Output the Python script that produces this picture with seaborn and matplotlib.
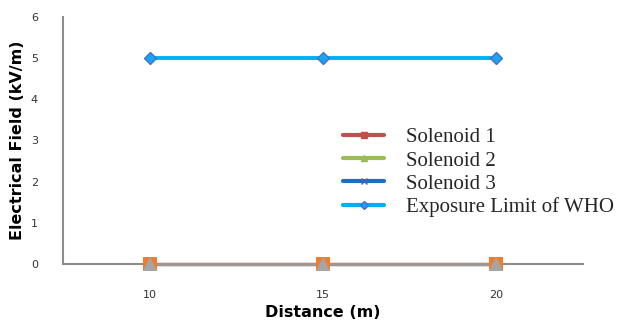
import matplotlib
matplotlib.use("Agg")
import matplotlib.pyplot as plt
from matplotlib.lines import Line2D
import seaborn as sns
import pandas as pd

distances = ["10", "15", "20"]
solenoid_1 = [0, 0, 0]
solenoid_2 = [0, 0, 0]
solenoid_3 = [0, 0, 0]
who_limit = [5, 5, 5]
y_ticks = [0, 1, 2, 3, 4, 5, 6]

sns.set_theme(style="white")
plt.rcParams["font.family"] = ["DejaVu Sans"]

fig = plt.figure(figsize=(6.34, 3.33), dpi=100)
ax = fig.add_axes([0.0994, 0.2072, 0.8202, 0.7418])

df = pd.DataFrame({"Distance": distances, "S1": solenoid_1, "S2": solenoid_2,
                   "S3": solenoid_3, "WHO": who_limit})

sns.pointplot(data=df, x="Distance", y="WHO", color="#00B0F0", markers="D",
              errorbar=None, ax=ax, linewidth=2.8, markersize=6.5,
              markeredgecolor="#4472C4", markeredgewidth=1.0,
              markerfacecolor="#1AA3F5", zorder=3)
sns.pointplot(data=df, x="Distance", y="S3", color="#F2D8CC", markers="",
              errorbar=None, ax=ax, linewidth=3.5, zorder=3)
sns.pointplot(data=df, x="Distance", y="S3", color="#999999", markers="",
              errorbar=None, ax=ax, linewidth=2.2, zorder=4)
sns.pointplot(data=df, x="Distance", y="S1", color="#ED7D31", markers="s",
              linestyles="none", errorbar=None, ax=ax, markersize=10,
              markeredgewidth=0, zorder=5)
sns.pointplot(data=df, x="Distance", y="S2", color="#A5A5A5", markers="^",
              linestyles="none", errorbar=None, ax=ax, markersize=10,
              markeredgewidth=0, zorder=6)
for ln in ax.lines:
    ln.set_clip_on(False)

ax.set_xlim(-0.5, 2.5)
ax.set_ylim(0, 6)
ax.set_yticks(y_ticks)
ax.tick_params(axis="both", length=0, labelsize=8, colors="#333333")
ax.tick_params(axis="x", pad=19)
ax.tick_params(axis="y", pad=18)
for side in ["top", "right"]:
    ax.spines[side].set_visible(False)
for side in ["left", "bottom"]:
    ax.spines[side].set_color("#8C8C8C")
    ax.spines[side].set_linewidth(1.5)

label_font = dict(family=["Liberation Sans Narrow", "DejaVu Sans"],
                  weight="bold", size=11.5, color="black")
ax.set_xlabel("Distance (m)", **label_font, labelpad=3)
ax.set_ylabel("Electrical Field (kV/m)", **label_font, labelpad=4)

handles = [
    Line2D([], [], color="#C0504D", lw=3, marker="s", markersize=5),
    Line2D([], [], color="#9BBB59", lw=3, marker="^", markersize=5),
    Line2D([], [], color="#1F6FC0", lw=3, marker="x", markersize=5,
           markeredgecolor="#4F5FA8"),
    Line2D([], [], color="#00B0F0", lw=3, marker="D", markersize=4,
           markerfacecolor="#1AA3F5", markeredgecolor="#4472C4"),
]
labels = ["Solenoid 1", "Solenoid 2", "Solenoid 3", "Exposure Limit of WHO"]
ax.legend(handles, labels, loc="upper left", bbox_to_anchor=(0.538, 0.551),
          frameon=False, prop={"family": "Liberation Serif", "size": 15},
          handlelength=2.0, labelspacing=0.17, handletextpad=1.05,
          borderaxespad=0, borderpad=0)

fig.savefig("out.png", dpi=100)
